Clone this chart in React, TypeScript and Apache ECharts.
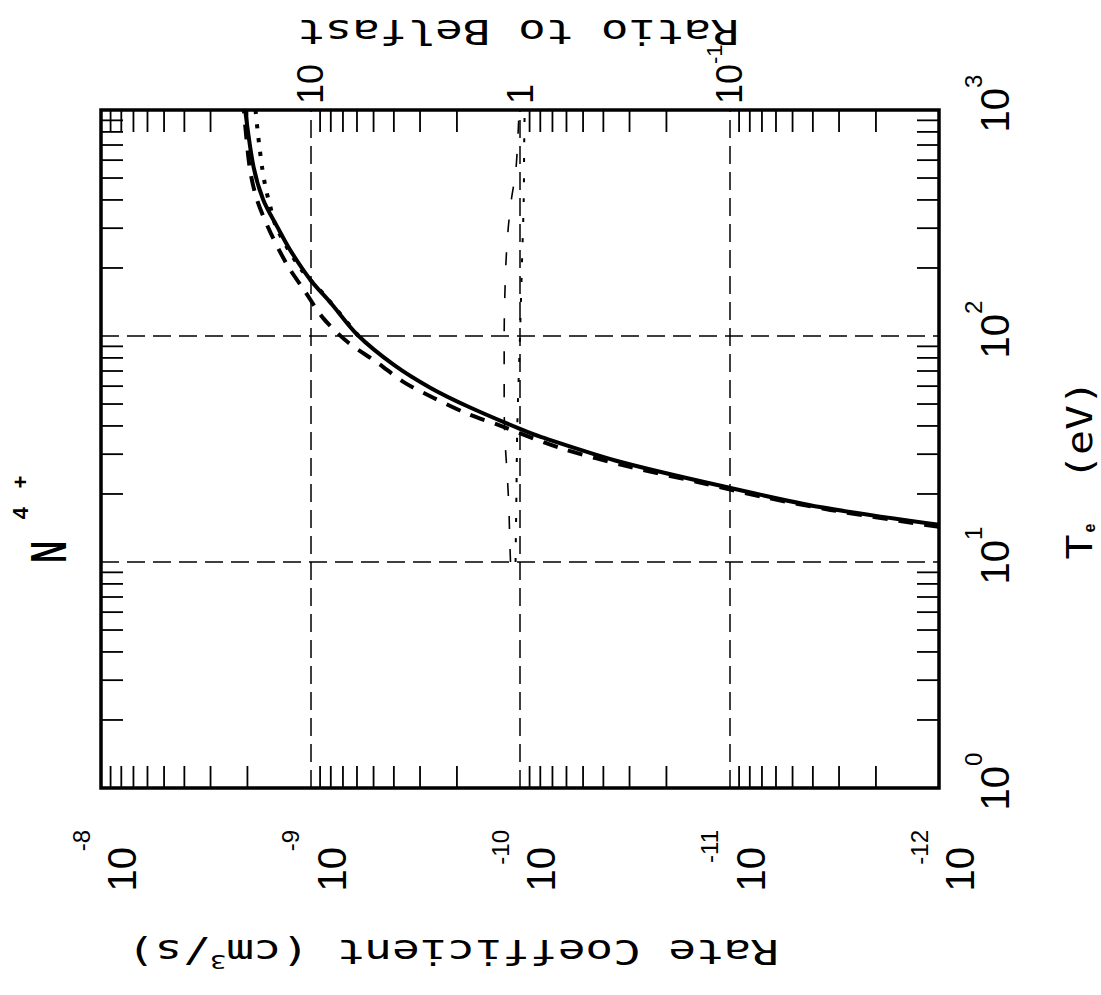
import { useEffect, useRef } from "react";
import * as echarts from "echarts";

// ---- data (T in eV, rate coefficient in cm^3/s, ratio dimensionless) ----
const T_SOLID = [14.6, 17.5, 21.3, 27.7, 35.7, 38.8, 48.5, 58.9, 74.5, 101, 140, 177, 240, 304, 400, 560, 1000];
const RATE_SOLID = [1.0e-12, 3.7e-12, 1.0e-11, 3.3e-11, 7.9e-11, 1.0e-10, 1.75e-10, 2.67e-10, 4.0e-10, 5.96e-10, 8.0e-10, 1.0e-9, 1.25e-9, 1.44e-9, 1.68e-9, 1.87e-9, 2.05e-9];

const T_DASHED = [14.3, 17.0, 19.4, 22.6, 26.3, 31.9, 40.4, 45.6, 53.2, 62.5, 76, 94, 120, 157, 206, 286, 400, 554, 1000];
const RATE_DASHED = [1.0e-12, 3.3e-12, 6.9e-12, 1.42e-11, 2.96e-11, 6.4e-11, 1.27e-10, 1.81e-10, 2.58e-10, 3.59e-10, 4.77e-10, 6.65e-10, 8.7e-10, 1.06e-9, 1.29e-9, 1.55e-9, 1.8e-9, 1.95e-9, 2.08e-9];

const T_DOTTED = [100, 150, 200, 300, 387, 456, 553, 679, 816, 1000];
const RATE_DOTTED = [5.9e-10, 8.5e-10, 1.12e-9, 1.45e-9, 1.57e-9, 1.64e-9, 1.7e-9, 1.75e-9, 1.79e-9, 1.83e-9];

const T_RATIO_DASHED = [10, 12.8, 17.4, 24, 35, 49, 71, 100, 200, 295, 400, 550, 1000];
const RATIO_DASHED = [1.11, 1.12, 1.13, 1.15, 1.18, 1.19, 1.19, 1.19, 1.17, 1.14, 1.1, 1.045, 1.01];

const T_RATIO_DOTTED = [10, 20, 40, 100, 200, 400, 700, 1000];
const RATIO_DOTTED = [1.05, 1.04, 1.03, 1.0, 0.98, 0.96, 0.955, 0.95];

const T_MINOR_TICKS = [2, 3, 4, 5, 6, 7, 8, 9, 20, 30, 40, 50, 60, 70, 80, 90, 200, 300, 400, 500, 600, 700, 800, 900];
const RATE_MINOR_TICKS = [
  2e-12, 3e-12, 4e-12, 5e-12, 6e-12, 7e-12, 8e-12, 9e-12,
  2e-11, 3e-11, 4e-11, 5e-11, 6e-11, 7e-11, 8e-11, 9e-11,
  2e-10, 3e-10, 4e-10, 5e-10, 6e-10, 7e-10, 8e-10, 9e-10,
  2e-9, 3e-9, 4e-9, 5e-9, 6e-9, 7e-9, 8e-9, 9e-9,
];

const zip = (a: number[], b: number[]) => a.map((v, i) => [v, b[i]]);

const W = 995;
const H = 1101;
const TICK_LEN = 22;
const NUM_FONT = "Liberation Sans";
const TITLE_FONT = "DejaVu Sans Mono";

export default function App() {
  const ref = useRef<HTMLDivElement>(null);

  useEffect(() => {
    if (!ref.current) return;
    const chart = echarts.init(ref.current, null, { renderer: "svg", width: W, height: H });

    const tickStyle = { stroke: "#000", lineWidth: 1.8 };

    const option: any = {
      animation: false,
      backgroundColor: "#fff",
      grid: {
        left: 207,
        right: 110,
        top: 101,
        bottom: 162,
        show: true,
        borderColor: "#000",
        borderWidth: 3.5,
        backgroundColor: "transparent",
        containLabel: false,
        outerBoundsMode: "none",
      },
      xAxis: {
        type: "log",
        logBase: 10,
        min: 1,
        max: 1000,
        position: "bottom",
        axisLine: { show: false },
        axisTick: { show: false },
        splitLine: { show: true, lineStyle: { color: "#000", width: 1.5, type: [18, 8] } },
        axisLabel: {
          margin: 36,
          padding: [0, 0, 0, 13],
          formatter: (v: number) => `{b|10}{s|${Math.round(Math.log10(v))}}`,
          rich: {
            b: { fontSize: 40, fontFamily: NUM_FONT, color: "#000", lineHeight: 40 },
            s: { fontSize: 24, fontFamily: NUM_FONT, color: "#000", lineHeight: 24, padding: [0, 0, 44, 0] },
          },
        },
      },
      yAxis: [
        {
          type: "log",
          logBase: 10,
          min: 1e-12,
          max: 1e-8,
          position: "left",
          axisLine: { show: false },
          axisTick: { show: false },
          splitLine: { show: true, lineStyle: { color: "#000", width: 1.5, type: [18, 8] } },
          axisLabel: {
            margin: 42,
            formatter: (v: number) => `{s|${Math.round(Math.log10(v))}}\n{b|10}`,
            rich: {
              s: { fontSize: 24, fontFamily: NUM_FONT, color: "#000", lineHeight: 42 },
              b: { fontSize: 40, fontFamily: NUM_FONT, color: "#000", lineHeight: 40, padding: [0, 17, 0, 0] },
            },
          },
        },
        {
          type: "log",
          logBase: 10,
          min: 0.01,
          max: 100,
          position: "right",
          axisLine: { show: false },
          axisTick: { show: false },
          splitLine: { show: false },
          axisLabel: {
            margin: 6,
            formatter: (v: number) => {
              const e = Math.round(Math.log10(v));
              if (e === 1) return "{b|10}";
              if (e === 0) return "{b|1}";
              if (e === -1) return "{b|10}{s|-1}";
              return "";
            },
            rich: {
              b: { fontSize: 36, fontFamily: NUM_FONT, color: "#000", lineHeight: 36 },
              s: { fontSize: 22, fontFamily: NUM_FONT, color: "#000", lineHeight: 22, padding: [0, 0, 30, 0] },
            },
          },
        },
      ],
      graphic: [
        {
          type: "text",
          x: 443,
          y: 49,
          scaleX: 0.6,
          style: { text: "N", fontSize: 50, fontWeight: "bold", fontFamily: NUM_FONT, fill: "#000", align: "center", verticalAlign: "middle" },
        },
        {
          type: "text",
          x: 482,
          y: 20,
          style: { text: "4", fontSize: 22, fontWeight: "bold", fontFamily: NUM_FONT, fill: "#000", align: "center", verticalAlign: "middle" },
        },
        {
          type: "text",
          x: 513,
          y: 20,
          style: { text: "+", fontSize: 22, fontWeight: "bold", fontFamily: NUM_FONT, fill: "#000", align: "center", verticalAlign: "middle" },
        },
        {
          type: "text",
          x: 448,
          y: 1079,
          scaleX: 1.15,
          style: { text: "T", fontSize: 36, fontFamily: TITLE_FONT, fill: "#000", align: "center", verticalAlign: "middle" },
        },
        {
          type: "text",
          x: 467,
          y: 1089,
          style: { text: "e", fontSize: 16, fontWeight: "bold", fontFamily: NUM_FONT, fill: "#000", align: "center", verticalAlign: "middle" },
        },
        {
          type: "text",
          x: 565,
          y: 1079,
          scaleX: 1.15,
          style: { text: "(eV)", fontSize: 36, fontFamily: TITLE_FONT, fill: "#000", align: "center", verticalAlign: "middle" },
        },
        {
          type: "text",
          x: 44,
          y: 453,
          rotation: Math.PI / 2,
          scaleX: 1.35,
          style: {
            text: "{a|Rate Coefficient (cm}{s|3}{a|/s)}",
            align: "center",
            verticalAlign: "middle",
            rich: {
              a: { fontSize: 34, fontFamily: TITLE_FONT, fill: "#000", color: "#000" },
              s: { fontSize: 20, fontFamily: TITLE_FONT, fill: "#000", color: "#000", padding: [0, 0, 22, 0] },
            },
          },
        },
        {
          type: "text",
          x: 964,
          y: 518,
          rotation: Math.PI / 2,
          scaleX: 1.35,
          style: { text: "Ratio to Belfast", fontSize: 34, fontFamily: TITLE_FONT, fill: "#000", align: "center", verticalAlign: "middle" },
        },
      ],
      series: [
        {
          type: "line",
          name: "Belfast",
          data: zip(T_SOLID, RATE_SOLID),
          symbol: "none",
          smooth: 0.3,
          lineStyle: { color: "#000", width: 4 },
          z: 5,
        },
        {
          type: "line",
          name: "Dashed",
          data: zip(T_DASHED, RATE_DASHED),
          symbol: "none",
          smooth: 0.3,
          lineStyle: { color: "#000", width: 4, type: [15, 11] },
          z: 4,
        },
        {
          type: "line",
          name: "Dotted",
          data: zip(T_DOTTED, RATE_DOTTED),
          symbol: "none",
          smooth: 0.3,
          lineStyle: { color: "#000", width: 4, type: [4, 10] },
          z: 4,
        },
        {
          type: "line",
          name: "Ratio dashed",
          yAxisIndex: 1,
          data: zip(T_RATIO_DASHED, RATIO_DASHED),
          symbol: "none",
          smooth: 0.3,
          lineStyle: { color: "#000", width: 1.6, type: [13, 20] },
        },
        {
          type: "line",
          name: "Ratio dotted",
          yAxisIndex: 1,
          data: zip(T_RATIO_DOTTED, RATIO_DOTTED),
          symbol: "none",
          smooth: 0.3,
          lineStyle: { color: "#000", width: 2, type: [4, 16] },
        },
        {
          type: "custom",
          name: "T minor ticks",
          silent: true,
          data: T_MINOR_TICKS.map((t) => [t, 1e-10]),
          encode: { x: 0, y: 1 },
          renderItem: (params: any, api: any) => {
            const cs = params.coordSys;
            const p = api.coord([api.value(0), api.value(1)]);
            const x = p[0];
            const yb = cs.y + cs.height;
            return {
              type: "group",
              children: [
                { type: "line", shape: { x1: x, y1: yb, x2: x, y2: yb - TICK_LEN }, style: tickStyle },
                { type: "line", shape: { x1: x, y1: cs.y, x2: x, y2: cs.y + TICK_LEN }, style: tickStyle },
              ],
            };
          },
        },
        {
          type: "custom",
          name: "Rate minor ticks",
          silent: true,
          data: RATE_MINOR_TICKS.map((r) => [10, r]),
          encode: { x: 0, y: 1 },
          renderItem: (params: any, api: any) => {
            const cs = params.coordSys;
            const p = api.coord([api.value(0), api.value(1)]);
            const y = p[1];
            const xr = cs.x + cs.width;
            return {
              type: "group",
              children: [
                { type: "line", shape: { x1: cs.x, y1: y, x2: cs.x + TICK_LEN, y2: y }, style: tickStyle },
                { type: "line", shape: { x1: xr, y1: y, x2: xr - TICK_LEN, y2: y }, style: tickStyle },
              ],
            };
          },
        },
      ],
    };

    chart.setOption(option);
    return () => chart.dispose();
  }, []);

  return (
    <div
      style={{
        position: "fixed",
        left: 0,
        top: 0,
        width: 1101,
        height: 995,
        background: "#fff",
        overflow: "hidden",
      }}
    >
      <div
        ref={ref}
        style={{
          position: "absolute",
          left: 0,
          top: 0,
          width: W,
          height: H,
          transformOrigin: "0 0",
          transform: `translate(0px, ${W}px) rotate(-90deg)`,
        }}
      />
    </div>
  );
}
